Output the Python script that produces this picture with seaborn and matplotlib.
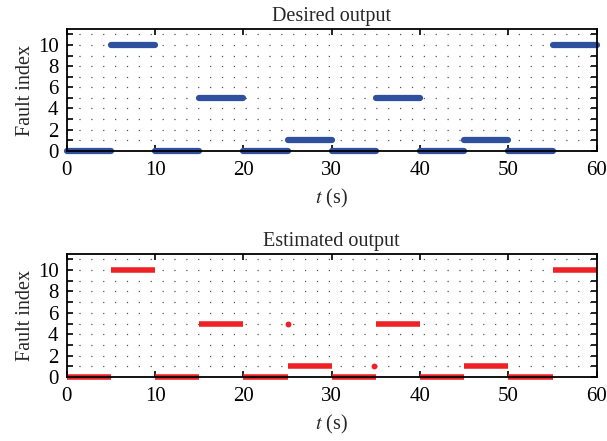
import numpy as np
import pandas as pd
import seaborn as sns
from matplotlib import pyplot as plt
from matplotlib.ticker import MultipleLocator

# Fault segments (s) and levels
seg_start = [0, 5, 10, 15, 20, 25, 30, 35, 40, 45, 50, 55]
seg_end = [5, 10, 15, 20, 25, 30, 35, 40, 45, 50, 55, 60]
desired_level = [0, 10, 0, 5, 0, 1, 0, 5, 0, 1, 0, 10]
estimated_level = [0, 10, 0, 5, 0, 1, 0, 5, 0, 1, 0, 10]
# isolated misclassified samples in the estimate
outlier_t = [25.0, 34.8]
outlier_y = [5, 1]

x_ticks = [0, 10, 20, 30, 40, 50, 60]
y_ticks = [0, 2, 4, 6, 8, 10]

sns.set_style("ticks")
plt.rcParams['font.family'] = ['Liberation Serif', 'DejaVu Serif']
plt.rcParams['mathtext.fontset'] = 'stix'


def segments_frame(levels):
    rows = []
    for i, (a, b, lv) in enumerate(zip(seg_start, seg_end, levels)):
        rows.append({"t": a, "y": lv, "seg": i})
        rows.append({"t": b, "y": lv, "seg": i})
    return pd.DataFrame(rows)


def style_axes(ax, title):
    ax.set_xlim(0, 60)
    ax.set_ylim(0, 11.5)
    ax.set_xticks(x_ticks)
    ax.set_yticks(y_ticks)
    ax.yaxis.set_minor_locator(MultipleLocator(1))
    ax.grid(False)
    for yv in range(1, 12):
        ax.axhline(yv, color='#555555', lw=0.9, ls=(0, (1, 8.5)), zorder=0)
    ax.tick_params(which='both', direction='in', top=True, right=True,
                   labelsize=15, width=1.2, colors='black')
    ax.tick_params(axis='x', pad=7)
    ax.tick_params(axis='y', pad=6)
    ax.tick_params(which='major', length=4)
    ax.tick_params(which='minor', length=4)
    ax.tick_params(axis='x', which='minor', top=False, bottom=False)
    for s in ax.spines.values():
        s.set_linewidth(1.3)
        s.set_color('black')
    ax.set_title(title, fontsize=14.5, pad=6)
    ax.set_ylabel('Fault index', fontsize=14.5, labelpad=2)
    ax.set_xlabel('$t$ (s)', fontsize=14.5, labelpad=5)


fig = plt.figure(figsize=(6.07, 4.41), dpi=100)
ax1 = fig.add_axes([0.110, 0.658, 0.873, 0.276])
ax2 = fig.add_axes([0.110, 0.145, 0.873, 0.279])

df_des = segments_frame(desired_level)
sns.lineplot(data=df_des, x="t", y="y", units="seg", estimator=None,
             color='#2f4f9f', lw=4.5, solid_capstyle='round', ax=ax1, clip_on=False)
style_axes(ax1, 'Desired output')

df_est = segments_frame(estimated_level)
sns.lineplot(data=df_est, x="t", y="y", units="seg", estimator=None,
             color='#ee2226', lw=4, solid_capstyle='butt', ax=ax2, clip_on=False)
sns.scatterplot(x=outlier_t, y=outlier_y, color='#ee2226', s=18, linewidth=0, ax=ax2)
style_axes(ax2, 'Estimated output')

fig.savefig('out.png', dpi=100)
